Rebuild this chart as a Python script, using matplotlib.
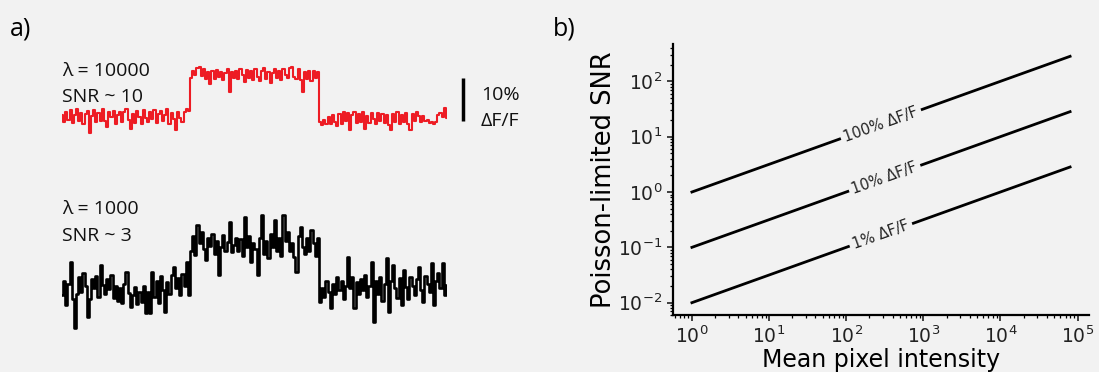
import numpy as np
import matplotlib
matplotlib.use("Agg")
import matplotlib.pyplot as plt

BG = "#f2f2f2"
RED = "#ed1c24"
FONTE = ["Open Sans", "DejaVu Sans"]

# traços de fluorescência (% dF/F), três blocos de 60 amostras: base / estímulo / base
traco_10000 = [
    0.8, -0.9, 1.5, -0.4, 1.8, -1.2, 0.6, 2.0, -0.7, 1.1,
    -1.5, 0.9, 1.6, -3.5, 0.4, 1.9, -1.0, 1.2, -0.6, 2.1,
    -0.8, -2.2, 1.4, 0.2, 1.7, -1.3, 0.8, 1.5, -0.9, 1.3,
    2.0, -0.5, -2.5, 1.0, -1.1, 1.6, 0.3, -1.4, 1.8, 0.0,
    -1.0, 1.3, -0.3, 1.9, -1.2, 0.9, 1.7, -0.8, 0.7, 2.1,
    -1.3, 1.2, -0.2, -2.9, 1.5, 0.1, -1.0, 1.4, 2.0, 1.6,
    9.2, 10.9, 10.1, 11.6, 11.8, 9.8, 11.3, 9.0, 10.7, 7.8,
    10.9, 9.1, 11.2, 9.5, 10.8, 8.9, 10.5, 11.4, 6.0, 10.8,
    9.2, 11.0, 9.0, 11.5, 10.0, 8.4, 11.2, 9.4, 10.9, 8.8,
    11.4, 9.6, 8.7, 11.0, 11.6, 9.1, 10.8, 8.2, 10.5, 11.3,
    9.3, 11.0, 8.9, 11.5, 10.1, 9.2, 11.6, 11.9, 9.6, 9.0,
    11.3, 8.8, 6.0, 10.8, 9.0, 11.0, 8.6, 10.9, 9.3, 10.7,
    -1.0, -1.6, -0.4, -1.3, 0.2, -1.5, 0.8, -1.0, -1.8, 1.0,
    -1.4, 1.3, -0.6, 1.1, -2.7, 0.7, 1.5, -1.1, 0.9, -0.9,
    1.4, -2.6, 0.5, -1.2, 1.2, -0.3, -1.5, 1.1, -0.8, 0.9,
    -1.1, 0.8, -1.6, -2.8, 1.0, -0.9, 1.3, -1.4, 0.6, -1.0,
    1.1, -1.5, -2.9, 0.9, -0.7, 1.4, 0.5, -0.9, 0.4, -0.8,
    -0.5, -1.2, -1.0, -1.4, -0.9, 0.6, 1.2, 0.3, 2.4, -0.1,
]

traco_1000 = [
    -1.2, 2.0, -3.5, 1.5, 6.5, -2.0, -8.8, -1.0, 3.0, -0.5,
    4.0, 1.0, -6.3, -2.0, 2.5, 0.5, 3.2, -1.5, 5.8, 1.2,
    -0.8, 2.6, 0.2, 3.5, -1.8, 1.0, -2.5, 0.4, -3.0, 1.5,
    4.2, -0.6, -4.0, -1.2, 0.8, -3.2, -0.5, -2.8, 1.0, -5.3,
    -0.4, -5.3, 4.2, -1.5, 2.0, -3.0, 3.2, 0.0, -5.1, 1.8,
    -1.0, 3.4, 5.3, 0.6, 2.8, -1.2, 3.8, 1.0, 6.5, -1.2,
    9.0, 12.5, 8.2, 15.1, 11.0, 13.5, 9.5, 7.0, 12.0, 10.2,
    13.0, 8.5, 11.5, 3.5, 10.0, 12.8, 9.0, 11.2, 15.8, 8.8,
    10.5, 12.2, 9.2, 11.8, 8.0, 17.0, 10.0, 12.5, 6.5, 11.0,
    9.5, 3.5, 12.0, 17.4, 8.5, 11.5, 7.5, 13.0, 10.0, 16.3,
    9.0, 12.0, 8.0, 17.4, 11.5, 13.5, 9.0, 11.0, 7.8, 4.2,
    12.5, 14.7, 10.0, 8.5, 12.0, 9.2, 14.0, 11.0, 8.0, 12.0,
    -2.8, 0.5, -1.5, 2.0, -0.5, -4.2, 1.5, -1.0, 3.0, 0.0,
    2.2, -2.0, 1.0, 7.7, 0.5, 3.0, -4.2, 1.8, -1.0, 2.5,
    0.0, 3.5, -1.5, 1.0, 6.5, -7.4, 2.0, -0.8, 3.0, -2.5,
    1.5, 7.4, -5.1, 2.2, 5.8, 0.5, -1.8, 2.8, -3.5, 4.7,
    0.8, -2.0, 3.0, 1.0, -1.2, 2.5, 5.3, 0.0, -2.8, 3.2,
    1.5, -0.5, 6.3, -3.5, 2.0, 4.0, 0.5, 6.3, -1.2, 1.2,
]

escala = 10  # barra de escala, % dF/F

# SNR limitado por Poisson para três amplitudes de dF/F
intensidade = [1, 10, 100, 1000, 10000, 80000]
snr_100 = [1.0, 3.16, 10.0, 31.6, 100.0, 283.0]
snr_10 = [0.1, 0.316, 1.0, 3.16, 10.0, 28.3]
snr_1 = [0.01, 0.0316, 0.1, 0.316, 1.0, 2.83]
rotulos = ["100% ΔF/F", "10% ΔF/F", "1% ΔF/F"]
pos_rotulo = [282, 316, 282]

W, H = 1099, 372
fig = plt.figure(figsize=(W / 100, H / 100), dpi=100, facecolor=BG)

# ---- painel a) ----
ax_a = fig.add_axes([62 / W, 32 / H, 385 / W, 290 / H])
ax_a.set_facecolor(BG)
ax_a.axis("off")
n = len(traco_10000)
x = np.arange(n)
ax_a.plot(x, traco_10000, color=RED, lw=1.5, drawstyle="steps-mid")
ax_a.plot(x, np.array(traco_1000) - 40, color="black", lw=1.9, drawstyle="steps-mid")
ax_a.set_xlim(0, n - 1)
ax_a.set_ylim(-51.6, 15.8)

xb = (463 - 62) / 385 * (n - 1)
ax_a.plot([xb, xb], [-0.6, -0.6 + escala], color="black", lw=2.5, clip_on=False,
          solid_capstyle="butt")
kw = dict(fontsize=14, family=FONTE, va="center", ha="left", color="#111111")
ax_a.text(0, 10.9, "λ = 10000", **kw)
ax_a.text(0, 4.9, "SNR ~ 10", **kw)
ax_a.text(0, -21.2, "λ = 1000", **kw)
ax_a.text(0, -27.4, "SNR ~ 3", **kw)
xt = (481 - 62) / 385 * (n - 1)
ax_a.text(xt, 5.3, f"{escala}%", **kw)
ax_a.text(xt, -0.7, "ΔF/F", **kw)

fig.text(10 / W, 1 - 29 / H, "a)", fontsize=18, family=FONTE, va="center", ha="left")
fig.text(553 / W, 1 - 29 / H, "b)", fontsize=18, family=FONTE, va="center", ha="left")

# ---- painel b) ----
ax_b = fig.add_axes([673 / W, 57 / H, 416 / W, 271 / H])
ax_b.set_facecolor(BG)
linhas = [snr_100, snr_10, snr_1]
for snr in linhas:
    ax_b.plot(intensidade, snr, color="black", lw=2)
ax_b.set_xscale("log")
ax_b.set_yscale("log")
ax_b.autoscale_view()
for s in ["top", "right"]:
    ax_b.spines[s].set_visible(False)
for s in ["left", "bottom"]:
    ax_b.spines[s].set_linewidth(1.6)
ax_b.tick_params(which="major", labelsize=13.5, length=4, width=1.2, colors="#222222")
ax_b.tick_params(which="minor", length=2.5, width=0.9)
ax_b.set_xlabel("Mean pixel intensity", fontsize=17, labelpad=1)
ax_b.set_ylabel("Poisson-limited SNR", fontsize=18.5, labelpad=1)

# rótulos em linha, com fundo para abrir a lacuna na reta
lx = np.log10(intensidade)
for snr, txt, xr in zip(linhas, rotulos, pos_rotulo):
    ly = np.log10(snr)
    yr = 10 ** np.interp(np.log10(xr), lx, ly)
    p0 = ax_b.transData.transform((intensidade[0], snr[0]))
    p1 = ax_b.transData.transform((intensidade[-1], snr[-1]))
    ang = np.degrees(np.arctan2(p1[1] - p0[1], p1[0] - p0[0]))
    ax_b.text(xr, yr, txt, rotation=ang, rotation_mode="anchor", ha="center", va="center",
              fontsize=10.5, color="#222222",
              bbox=dict(boxstyle="square,pad=0.25", fc=BG, ec="none"))

fig.savefig("out.png", dpi=100, facecolor=BG)
